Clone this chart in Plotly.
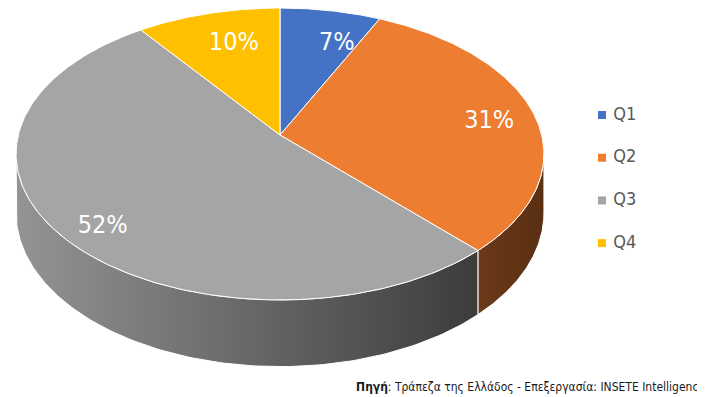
import numpy as np
import plotly.graph_objects as go

# ---------------- data ----------------
categories = ["Q1", "Q2", "Q3", "Q4"]
shares = [7, 31, 52, 10]
source_text = "<b>Πηγή</b>: Τράπεζα της Ελλάδος - Επεξεργασία: INSETE Intelligence"

# ---------------- style ----------------
top_colors = ["#4472C4", "#ED7D31", "#A5A5A5", "#FFC000"]
side_gradients = [
    ["#2f5597", "#2a4a85"],
    ["#6a3919", "#5a2f12"],
    ["#949494", "#3c3c3c"],
    ["#b08600", "#8f6d00"],
]
label_radius = [0.73, 0.815, 0.86, 0.72]
label_frac = [0.75, 0.52, 0.48, 0.57]
FONT = "DejaVu Sans Condensed, Liberation Sans Narrow, Lato, sans-serif"

VIEW_W, VIEW_H = 705, 397
PAGE_OFF = 8           # default page margin of the html body
W, H = VIEW_W - PAGE_OFF, VIEW_H - PAGE_OFF
CX, CY = 280, 135      # projected pie centre (pixels)
RX, RY = 261.7, 143.5  # projected radii
PERSP = 0.13           # perspective strength
DEPTH = 58             # thickness of the pie


def proj(r, phi_deg, drop=0.0):
    t = np.radians(phi_deg)
    u = r * np.sin(t)
    v = r * np.cos(t)
    w = 1 + PERSP * v
    return CX + RX * u / w, CY - RY * v / w + drop / w


total = float(sum(shares))
starts = np.concatenate([[0.0], np.cumsum(shares)[:-1]]) / total * 360.0
ends = np.cumsum(shares) / total * 360.0

# silhouette (visible side wall range)
phi_right = np.degrees(np.arccos(-PERSP))
phi_left = 360.0 - phi_right

fig = go.Figure()

# side walls
for i, cat in enumerate(categories):
    a = max(starts[i], phi_right)
    b = min(ends[i], phi_left)
    if b <= a:
        continue
    phis = np.linspace(a, b, 120)
    xt, yt = proj(1.0, phis)
    xb, yb = proj(1.0, phis[::-1], DEPTH)
    xs = np.concatenate([xt, xb, xt[:1]])
    ys = np.concatenate([yt, yb, yt[:1]])
    fig.add_trace(go.Scatter(
        x=xs, y=ys, mode="lines", fill="toself",
        line=dict(color="white", width=1),
        fillgradient=dict(type="horizontal",
                          colorscale=[[0, side_gradients[i][0]], [1, side_gradients[i][1]]]),
        hoverinfo="skip", showlegend=False))

# top faces
for i, cat in enumerate(categories):
    phis = np.linspace(starts[i], ends[i], 200)
    xa, ya = proj(1.0, phis)
    x0, y0 = proj(0.0, 0.0)
    xs = np.concatenate([[x0], xa, [x0]])
    ys = np.concatenate([[y0], ya, [y0]])
    fig.add_trace(go.Scatter(
        x=xs, y=ys, mode="lines", fill="toself", fillcolor=top_colors[i],
        line=dict(color="white", width=1), name=cat,
        hoverinfo="skip", showlegend=False))

# percentage labels
lx, ly, lt = [], [], []
for i, cat in enumerate(categories):
    phi = starts[i] + label_frac[i] * (ends[i] - starts[i])
    x, y = proj(label_radius[i], phi)
    lx.append(x)
    ly.append(y)
    lt.append(f"{shares[i]}%")
fig.add_trace(go.Scatter(
    x=lx, y=ly, mode="text", text=lt,
    textfont=dict(family=FONT, size=25, color="white"),
    hoverinfo="skip", showlegend=False))

# legend (manual)
LEG_X, LEG_Y0, LEG_DY = 602, 115, 42.7
leg_y = [LEG_Y0 + k * LEG_DY for k in range(len(categories))]
fig.add_trace(go.Scatter(
    x=[LEG_X] * len(categories), y=leg_y, mode="markers+text",
    marker=dict(symbol="square", size=8, color=top_colors),
    text=[" " + c for c in categories], textposition="middle right",
    textfont=dict(family=FONT, size=18, color="#595959"),
    hoverinfo="skip", showlegend=False))

fig.add_trace(go.Scatter(
    x=[VIEW_W], y=[388], mode="text", text=[source_text],
    textposition="middle left",
    textfont=dict(family=FONT, size=12, color="#1a1a1a"),
    hoverinfo="skip", showlegend=False))

fig.update_layout(
    width=W, height=H,
    margin=dict(l=0, r=0, t=0, b=0),
    paper_bgcolor="white", plot_bgcolor="white",
    xaxis=dict(range=[PAGE_OFF, VIEW_W], visible=False, fixedrange=True),
    yaxis=dict(range=[VIEW_H, PAGE_OFF], visible=False, fixedrange=True),
    showlegend=False,
)

fig.write_html("out.html")
